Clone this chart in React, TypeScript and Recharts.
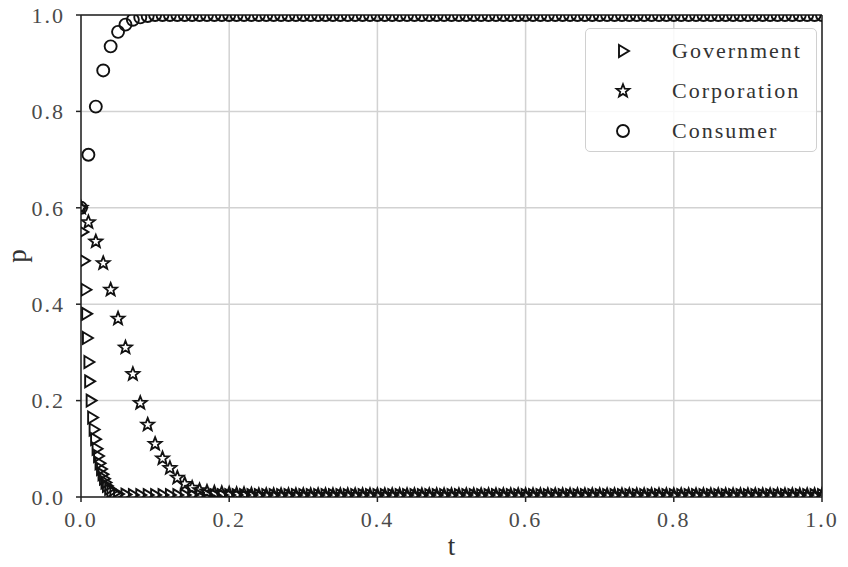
import { ScatterChart, Scatter, XAxis, YAxis, CartesianGrid, ReferenceLine, Legend } from 'recharts'

// time grid (step 0.01) shared by consumer and corporation
const T = [
  0, 0.01, 0.02, 0.03, 0.04, 0.05, 0.06, 0.07, 0.08, 0.09,
  0.1, 0.11, 0.12, 0.13, 0.14, 0.15, 0.16, 0.17, 0.18, 0.19,
  0.2, 0.21, 0.22, 0.23, 0.24, 0.25, 0.26, 0.27, 0.28, 0.29,
  0.3, 0.31, 0.32, 0.33, 0.34, 0.35, 0.36, 0.37, 0.38, 0.39,
  0.4, 0.41, 0.42, 0.43, 0.44, 0.45, 0.46, 0.47, 0.48, 0.49,
  0.5, 0.51, 0.52, 0.53, 0.54, 0.55, 0.56, 0.57, 0.58, 0.59,
  0.6, 0.61, 0.62, 0.63, 0.64, 0.65, 0.66, 0.67, 0.68, 0.69,
  0.7, 0.71, 0.72, 0.73, 0.74, 0.75, 0.76, 0.77, 0.78, 0.79,
  0.8, 0.81, 0.82, 0.83, 0.84, 0.85, 0.86, 0.87, 0.88, 0.89,
  0.9, 0.91, 0.92, 0.93, 0.94, 0.95, 0.96, 0.97, 0.98, 0.99,
  1,
]

const consumer = [
  0.6, 0.71, 0.81, 0.885, 0.935, 0.965, 0.98, 0.99, 0.995, 0.998,
  1, 1, 1, 1, 1, 1, 1, 1, 1, 1,
  1, 1, 1, 1, 1, 1, 1, 1, 1, 1,
  1, 1, 1, 1, 1, 1, 1, 1, 1, 1,
  1, 1, 1, 1, 1, 1, 1, 1, 1, 1,
  1, 1, 1, 1, 1, 1, 1, 1, 1, 1,
  1, 1, 1, 1, 1, 1, 1, 1, 1, 1,
  1, 1, 1, 1, 1, 1, 1, 1, 1, 1,
  1, 1, 1, 1, 1, 1, 1, 1, 1, 1,
  1, 1, 1, 1, 1, 1, 1, 1, 1, 1,
  1,
]

const corporation = [
  0.6, 0.57, 0.53, 0.485, 0.43, 0.37, 0.31, 0.255, 0.195, 0.15,
  0.11, 0.08, 0.06, 0.04, 0.027, 0.019, 0.014, 0.011, 0.009, 0.008,
  0.007, 0.006, 0.006, 0.005, 0.004, 0.004, 0.004, 0.004, 0.004, 0.004,
  0.004, 0.004, 0.004, 0.004, 0.004, 0.004, 0.004, 0.004, 0.004, 0.004,
  0.004, 0.004, 0.004, 0.004, 0.004, 0.004, 0.004, 0.004, 0.004, 0.004,
  0.004, 0.004, 0.004, 0.004, 0.004, 0.004, 0.004, 0.004, 0.004, 0.004,
  0.004, 0.004, 0.004, 0.004, 0.004, 0.004, 0.004, 0.004, 0.004, 0.004,
  0.004, 0.004, 0.004, 0.004, 0.004, 0.004, 0.004, 0.004, 0.004, 0.004,
  0.004, 0.004, 0.004, 0.004, 0.004, 0.004, 0.004, 0.004, 0.004, 0.004,
  0.004, 0.004, 0.004, 0.004, 0.004, 0.004, 0.004, 0.004, 0.004, 0.004,
  0.004,
]

// government decays much faster, sampled finer at the start
const govEarlyT = [
  0, 0.002, 0.004, 0.006, 0.007, 0.008, 0.01, 0.011, 0.013, 0.015,
  0.017, 0.019, 0.021, 0.023, 0.025, 0.027, 0.029, 0.031, 0.033, 0.035,
  0.038, 0.041, 0.045, 0.05,
]
const govEarly = [
  0.6, 0.55, 0.49, 0.43, 0.38, 0.33, 0.28, 0.24, 0.2, 0.165,
  0.14, 0.12, 0.1, 0.085, 0.07, 0.058, 0.047, 0.038, 0.03, 0.023,
  0.017, 0.012, 0.008, 0.006,
]
// values on T from t = 0.06 to 1.0
const govTail = [
  0.005, 0.004, 0.004, 0.004,
  0.004, 0.004, 0.004, 0.004, 0.004, 0.004, 0.004, 0.004, 0.004, 0.004,
  0.004, 0.004, 0.004, 0.004, 0.004, 0.004, 0.004, 0.004, 0.004, 0.004,
  0.004, 0.004, 0.004, 0.004, 0.004, 0.004, 0.004, 0.004, 0.004, 0.004,
  0.004, 0.004, 0.004, 0.004, 0.004, 0.004, 0.004, 0.004, 0.004, 0.004,
  0.004, 0.004, 0.004, 0.004, 0.004, 0.004, 0.004, 0.004, 0.004, 0.004,
  0.004, 0.004, 0.004, 0.004, 0.004, 0.004, 0.004, 0.004, 0.004, 0.004,
  0.004, 0.004, 0.004, 0.004, 0.004, 0.004, 0.004, 0.004, 0.004, 0.004,
  0.004, 0.004, 0.004, 0.004, 0.004, 0.004, 0.004, 0.004, 0.004, 0.004,
  0.004, 0.004, 0.004, 0.004, 0.004, 0.004, 0.004, 0.004, 0.004, 0.004,
  0.004,
]

const xTicks = [0, 0.2, 0.4, 0.6, 0.8, 1]
const yTicks = [0, 0.2, 0.4, 0.6, 0.8, 1]

const FONT = '"Liberation Serif", "Times New Roman", serif'
const INK = '#111'

// chart box, used for the plot-area clip (markers are cut at the frame like matplotlib)
const W = 848
const H = 567
const MARGIN = { top: 15, right: 26, bottom: 0, left: 0 }
const YAXIS_W = 81
const XAXIS_H = 70
const plotLeft = MARGIN.left + YAXIS_W
const plotTop = MARGIN.top
const plotW = W - plotLeft - MARGIN.right
const plotH = H - plotTop - MARGIN.bottom - XAXIS_H
const CLIP = 'url(#plot-area-clip)'

const consumerData = T.map((t, i) => ({ t, p: consumer[i] }))
const corporationData = T.map((t, i) => ({ t, p: corporation[i] }))
const tailT = T.filter((t) => t >= 0.055)
const governmentData = [
  ...govEarlyT.map((t, i) => ({ t, p: govEarly[i] })),
  ...tailT.map((t, i) => ({ t, p: govTail[i] })),
]

const TriangleMark = ({ cx, cy, clip }: any) => (
  <path
    d={`M${cx - 4},${cy - 6}L${cx + 6},${cy}L${cx - 4},${cy + 6}Z`}
    fill="none"
    stroke={INK}
    strokeWidth={1.9}
    clipPath={clip}
  />
)

const starPath = (cx: number, cy: number, R: number, r: number) => {
  let d = ''
  for (let k = 0; k < 10; k++) {
    const rad = k % 2 === 0 ? R : r
    const a = (-90 + k * 36) * Math.PI / 180
    d += (k === 0 ? 'M' : 'L') + (cx + rad * Math.cos(a)).toFixed(2) + ',' + (cy + rad * Math.sin(a)).toFixed(2)
  }
  return d + 'Z'
}

const StarMark = ({ cx, cy, clip }: any) => (
  <path d={starPath(cx, cy, 6.8, 2.9)} fill="none" stroke={INK} strokeWidth={1.8} clipPath={clip} />
)

const CircleMark = ({ cx, cy, clip }: any) => (
  <circle cx={cx} cy={cy} r={6} fill="none" stroke={INK} strokeWidth={1.9} clipPath={clip} />
)

const legendItems = [
  { name: 'Government', Mark: TriangleMark },
  { name: 'Corporation', Mark: StarMark },
  { name: 'Consumer', Mark: CircleMark },
]

const LegendBox = () => (
  <div style={{
    width: 232, height: 124, boxSizing: 'border-box',
    border: '1px solid #d0d0d0', borderRadius: 5,
    background: 'rgba(255,255,255,0.85)',
    paddingTop: 2,
    fontFamily: FONT, fontSize: 22, color: '#333', letterSpacing: 2,
  }}>
    {legendItems.map(({ name, Mark }) => (
      <div key={name} style={{ display: 'flex', alignItems: 'center', height: 40 }}>
        <svg width={86} height={20} style={{ flex: 'none' }}>
          <Mark cx={37} cy={10} />
        </svg>
        <span style={{ lineHeight: '22px' }}>{name}</span>
      </div>
    ))}
  </div>
)

const tickStyle = { fontFamily: FONT, fontSize: 22, fill: '#4a4a4a', letterSpacing: 2 }

const YTitle = (props: any) => {
  const vb = props.viewBox
  const x = vb.x + 26
  const y = vb.y + vb.height / 2
  return (
    <text x={x} y={y} transform={`rotate(-90, ${x}, ${y})`} textAnchor="middle"
      fontFamily={FONT} fontSize={27} fill="#333">p</text>
  )
}

const XTitle = (props: any) => {
  const vb = props.viewBox
  return (
    <text x={vb.x + vb.width / 2} y={vb.y + 58} textAnchor="middle"
      fontFamily={FONT} fontSize={27} fill="#333">t</text>
  )
}

export default function App() {
  return (
    <div style={{ position: 'absolute', left: 0, top: 0, background: '#fff' }}>
      <svg width={0} height={0} style={{ position: 'absolute' }}>
        <defs>
          <clipPath id="plot-area-clip" clipPathUnits="userSpaceOnUse">
            <rect x={plotLeft} y={plotTop} width={plotW} height={plotH} />
          </clipPath>
        </defs>
      </svg>
      <ScatterChart width={W} height={H} margin={MARGIN}>
        <CartesianGrid stroke="#d2d2d2" strokeWidth={1.5} />
        <XAxis
          type="number" dataKey="t" domain={[0, 1]} ticks={xTicks}
          tickFormatter={(v: number) => v.toFixed(1)}
          height={XAXIS_H} tickSize={5} tickMargin={9}
          tick={tickStyle} stroke="#222" strokeWidth={1.5}
          label={XTitle}
        />
        <YAxis
          type="number" dataKey="p" domain={[0, 1]} ticks={yTicks}
          tickFormatter={(v: number) => v.toFixed(1)}
          width={YAXIS_W} tickSize={5} tickMargin={11}
          tick={tickStyle} stroke="#222" strokeWidth={1.5}
          label={YTitle}
        />
        <Scatter name="Government" data={governmentData} shape={(p: any) => <TriangleMark {...p} clip={CLIP} />} isAnimationActive={false} />
        <Scatter name="Corporation" data={corporationData} shape={(p: any) => <StarMark {...p} clip={CLIP} />} isAnimationActive={false} />
        <Scatter name="Consumer" data={consumerData} shape={(p: any) => <CircleMark {...p} clip={CLIP} />} isAnimationActive={false} />
        <ReferenceLine y={1} stroke="#222" strokeWidth={1.5} />
        <ReferenceLine x={1} stroke="#222" strokeWidth={1.5} />
        <Legend
          layout="vertical" align="center" verticalAlign="middle"
          content={LegendBox}
          wrapperStyle={{ left: 585, top: 28, width: 232, height: 124 }}
        />
      </ScatterChart>
    </div>
  )
}
